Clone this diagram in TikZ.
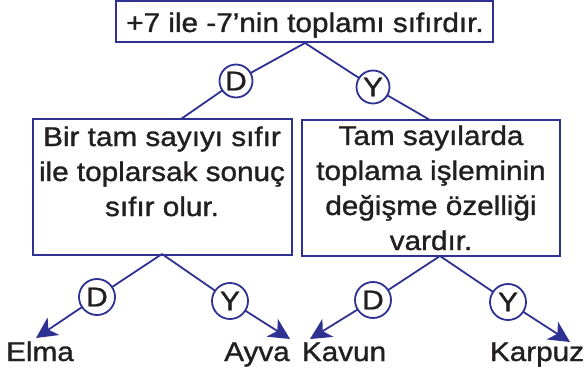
\documentclass[tikz,border=0pt]{standalone}
\usepackage{fontspec}
\setmainfont{Liberation Sans}[FakeStretch=1.1,FakeBold=1.2]
\usetikzlibrary{arrows.meta}
\definecolor{navy}{HTML}{2E3192}
\definecolor{ink}{HTML}{231F20}
\tikzset{
  box/.style={draw=navy, line width=2pt, fill=white, inner sep=0pt},
  txt/.style={text=ink, font=\fontsize{27}{35}\selectfont, align=center, inner sep=0pt},
  dot/.style={circle, draw=navy, line width=1.8pt, fill=white, inner sep=0pt, text=ink, font=\fontsize{27}{35}\selectfont},
  link/.style={draw=navy, line width=1.8pt},
  arr/.style={draw=navy, line width=1.8pt, -{Stealth[length=21pt, width=21pt, inset=6pt]}},
}
\begin{document}
\begin{tikzpicture}[x=1pt, y=-1pt]
\useasboundingbox (0,0) rectangle (586,374);
% top box
\node[box, minimum width=377pt, minimum height=41pt] (T) at (304.5,22) {};
\node[txt, anchor=base] (Tt) at (305,32) {+7 ile -7’nin toplamı sıfırdır.};
% second level boxes
\node[box, minimum width=259pt, minimum height=135pt] (L) at (162.5,187) {};
\node[txt, anchor=base] (Lt) at (162,216) {Bir tam sayıyı sıfır\\ile toplarsak sonuç\\sıfır olur.};
\node[box, minimum width=258pt, minimum height=136pt] (R) at (431,188) {};
\node[txt, anchor=base] (Rt) at (431,250) {Tam sayılarda\\toplama işleminin\\değişme özelliği\\vardır.};
% connection points
\coordinate (Ta) at (305,43);
\coordinate (La) at (181,119);
\coordinate (Ra) at (430,120);
\coordinate (Lb) at (162,254);
\coordinate (Rb) at (440,256);
% leaves
\node[txt, anchor=base] (elma) at (40,361) {Elma};
\node[txt, anchor=base] (ayva) at (257,361) {Ayva};
\node[txt, anchor=base] (kavun) at (344,361) {Kavun};
\node[txt, anchor=base] (karpuz) at (537,361) {Karpuz};
\coordinate (e1) at (36,338);
\coordinate (a1) at (290,339);
\coordinate (k1) at (310,339);
\coordinate (p1) at (570,342);
% circles positions
\coordinate (cD1) at (236,81);
\coordinate (cY1) at (373,87);
\coordinate (cD2) at (97,297);
\coordinate (cY2) at (230,301);
\coordinate (cD3) at (373,300);
\coordinate (cY3) at (508,302);
% links
\draw[link] (Ta) -- (cD1) -- (La);
\draw[link] (Ta) -- (cY1) -- (Ra);
\draw[link] (Lb) -- (cD2);
\draw[arr] (cD2) -- (e1);
\draw[link] (Lb) -- (cY2);
\draw[arr] (cY2) -- (a1);
\draw[link] (Rb) -- (cD3);
\draw[arr] (cD3) -- (k1);
\draw[link] (Rb) -- (cY3);
\draw[arr] (cY3) -- (p1);
% circles
\node[dot, minimum size=33pt] (D1) at (cD1) {D};
\node[dot, minimum size=33pt] (Y1) at (cY1) {Y};
\node[dot, minimum size=36pt] (D2) at (cD2) {D};
\node[dot, minimum size=36pt] (Y2) at (cY2) {Y};
\node[dot, minimum size=36pt] (D3) at (cD3) {D};
\node[dot, minimum size=36pt] (Y3) at (cY3) {Y};
\end{tikzpicture}
\end{document}
